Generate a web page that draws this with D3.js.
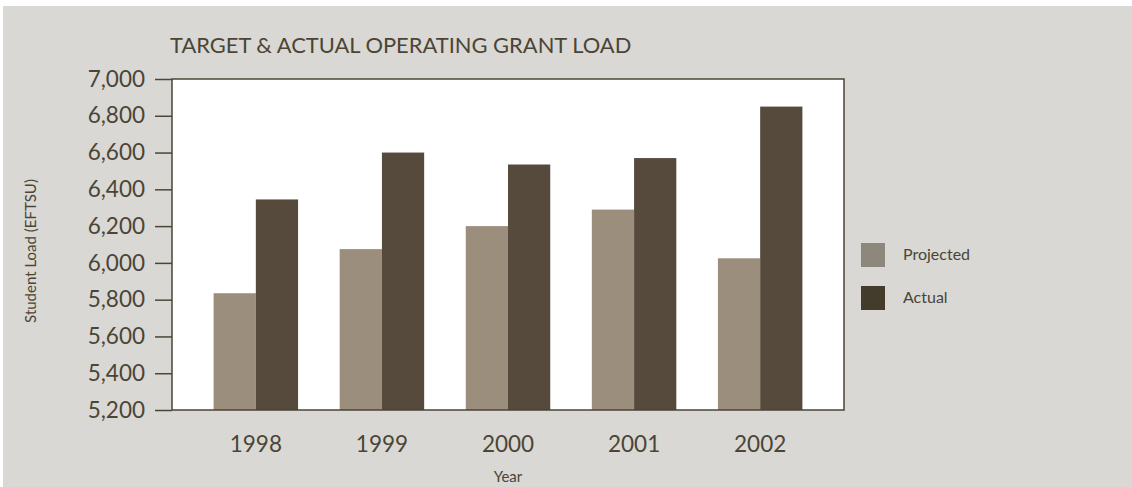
<!DOCTYPE html>
<html>
<head>
<meta charset="utf-8">
<script src="https://cdn.jsdelivr.net/npm/d3@7"></script>
<style>
  body { margin: 0; background: #fff; }
  text { font-family: "Lato", "Noto Sans", sans-serif; fill: #4a4536; }
</style>
</head>
<body>
<div id="chart"></div>
<script>
const WIDTH = 1132, HEIGHT = 487;
const years = ["1998", "1999", "2000", "2001", "2002"];
const projected = [5835, 6075, 6200, 6290, 6025];
const actual = [6345, 6600, 6535, 6570, 6850];
const seriesNames = ["Projected", "Actual"];
const barColors = ["#9b8e7d", "#564a3d"];
const legendColors = ["#8c897c", "#433b2b"];
const yTicks = [5200, 5400, 5600, 5800, 6000, 6200, 6400, 6600, 6800, 7000];

const plot = { left: 172, top: 79, right: 844, bottom: 410 };

const svg = d3.select("#chart")
    .append("svg")
    .attr("width", WIDTH)
    .attr("height", HEIGHT)

// grey panel
svg.append("rect")
    .attr("x", 3).attr("y", 6)
    .attr("width", WIDTH - 3).attr("height", HEIGHT - 6)
    .attr("fill", "#d9d8d4")

svg.append("rect")
    .attr("x", plot.left).attr("y", plot.top)
    .attr("width", plot.right - plot.left).attr("height", plot.bottom - plot.top)
    .attr("fill", "#fff")

const x = d3.scaleBand().domain(years).range([plot.left, plot.right]).padding(0.33);
const x1 = d3.scaleBand().domain(seriesNames).range([0, x.bandwidth()]);
const y = d3.scaleLinear().domain([5200, 7000]).range([plot.bottom, plot.top]);

const data = years.map((yr, i) => ({ year: yr, values: [projected[i], actual[i]] }));

const groups = svg.selectAll("g.group").data(data).enter().append("g")
    .attr("class", "group")
    .attr("transform", d => `translate(${x(d.year)},0)`)
groups.selectAll("rect")
    .data(d => d.values.map((v, i) => ({ key: seriesNames[i], value: v, i: i })))
    .enter().append("rect")
    .attr("x", d => x1(d.key))
    .attr("width", x1.bandwidth())
    .attr("y", d => y(d.value))
    .attr("height", d => y(5200) - y(d.value))
    .attr("fill", d => barColors[d.i])

// frame
svg.append("rect")
    .attr("x", plot.left).attr("y", plot.top)
    .attr("width", plot.right - plot.left).attr("height", plot.bottom - plot.top)
    .attr("fill", "none")
    .attr("stroke", "#4a4536")
    .attr("stroke-width", 1.5)

// y axis
const yAxis = d3.axisLeft(y).tickValues(yTicks).tickSize(17).tickPadding(10)
    .tickFormat(d3.format(","));
const gy = svg.append("g").attr("transform", `translate(${plot.left},0)`).call(yAxis);
gy.select(".domain").remove();
gy.selectAll(".tick line").attr("stroke", "#4a4536").attr("stroke-width", 1.5);
gy.selectAll(".tick text").attr("font-size", 22.5).style("font-family", "Lato, sans-serif").attr("fill", "#4a4536");

// x axis
const xAxis = d3.axisBottom(x).tickSize(0).tickPadding(26);
const gx = svg.append("g").attr("transform", `translate(0,${plot.bottom})`).call(xAxis);
gx.select(".domain").remove();
gx.selectAll(".tick text").attr("font-size", 22.5).style("font-family", "Lato, sans-serif").attr("fill", "#4a4536");

// title
svg.append("text")
    .attr("x", 170).attr("y", 53)
    .attr("font-size", 21.9)
    .text("TARGET & ACTUAL OPERATING GRANT LOAD")

svg.append("text")
    .attr("transform", "translate(36,251) rotate(-90)")
    .attr("text-anchor", "middle")
    .attr("font-size", 15)
    .text("Student Load (EFTSU)")

svg.append("text")
    .attr("x", (plot.left + plot.right) / 2).attr("y", 482)
    .attr("text-anchor", "middle")
    .attr("font-size", 15)
    .text("Year")

// legend
const legend = svg.selectAll("g.legend").data(seriesNames).enter().append("g")
    .attr("class", "legend")
    .attr("transform", (d, i) => `translate(861,${243 + i * 43})`)
legend.append("rect")
    .attr("width", 24).attr("height", 24)
    .attr("fill", (d, i) => legendColors[i])
legend.append("text")
    .attr("x", 42).attr("y", 17)
    .attr("font-size", 16)
    .text(d => d)
</script>
</body>
</html>
